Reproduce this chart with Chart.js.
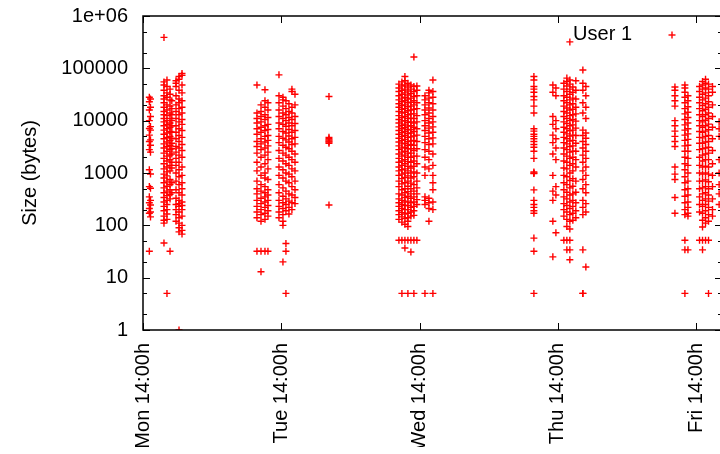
<!DOCTYPE html>
<html>
<head>
<meta charset="utf-8">
<script src="https://cdn.jsdelivr.net/npm/chart.js@4"></script>
<style>
  html, body { margin: 0; padding: 0; background: #fff; overflow: hidden; }
  #wrap { position: absolute; left: 0; top: 0; width: 760px; height: 447px; }
</style>
</head>
<body>
<div id="wrap"><canvas id="c" width="760" height="447"></canvas></div>
<script>
// Transfer sizes (bytes) logged per hour of the week; hour 0 = Monday 00:00.
// Each entry: [hour, [sizes logged around that hour]].
const mondayColumns = [
  [15.1, [28000, 23000, 16000, 10000, 7100, 5300, 4000, 2800, 1150, 550, 350, 270, 210, 170, 32]],
  [15.3, [26000, 18000, 12000, 7700, 6600, 4300, 3400, 2500, 960, 510, 300, 245, 180, 145]],
  [17.64, [390000, 55000, 48000, 38000, 30000, 26000, 22000, 18000, 15000, 13000, 11000, 9500, 8000, 6600, 5500, 4500, 3600, 3000, 2400, 1900, 1500, 1200, 950, 800, 650, 520, 420, 340, 280, 230, 190, 150, 125, 110, 46]],
  [18.16, [60000, 45000, 34000, 28000, 20000, 16000, 12500, 10000, 8500, 7000, 5800, 4800, 3900, 3200, 2600, 2100, 1700, 1300, 1050, 880, 700, 560, 450, 370, 300, 250, 200, 165, 130, 5]],
  [18.69, [40000, 32000, 25000, 19000, 14000, 11000, 9000, 7500, 6200, 5000, 4200, 3400, 2800, 2200, 1800, 1400, 1100, 750, 600, 480, 390, 320, 32]],
  [19.0, [24000, 17000, 13000, 10000, 8000, 6000, 4600, 3700, 2900, 2300, 1600, 1250, 650, 420]],
  [19.73, [58000, 52000, 45000, 30000, 20000, 15000, 11000, 8000, 6000, 4500, 3200, 2500, 1900, 1400, 1000, 700, 480, 330, 250, 200, 160, 120]],
  [20.25, [70000, 62000, 38000, 26000, 22000, 17000, 13000, 9500, 7000, 5200, 4000, 3000, 2200, 1600, 1150, 850, 600, 420, 300, 260, 230, 180, 140, 110, 90, 75, 1]],
  [20.77, [80000, 74000, 48000, 34000, 24000, 18000, 14000, 10500, 8500, 6500, 4800, 3500, 2700, 2000, 1300, 900, 650, 500, 380, 280, 240, 200, 150, 100, 80, 68]]
];

const tuesdayColumns = [
  [33.78, [48000, 14000, 11000, 9000, 7000, 5500, 4000, 3200, 2400, 1600, 1100, 700, 500, 400, 300, 230, 180, 140, 32]],
  [34.48, [20000, 15000, 12000, 9500, 7500, 6000, 4500, 3600, 2800, 2000, 1300, 900, 600, 450, 330, 260, 200, 160, 120, 32, 13]],
  [35.17, [39000, 24000, 18000, 13000, 10500, 8000, 6500, 5000, 3900, 3000, 2200, 1500, 1000, 800, 550, 420, 350, 280, 220, 170, 130, 32]],
  [35.69, [22000, 16000, 11500, 8500, 6800, 5200, 4200, 3300, 2500, 1800, 1200, 750, 480, 380, 300, 240, 190, 150, 32]],
  [37.6, [75000, 30000, 22000, 16000, 12000, 9000, 7000, 5000, 3800, 2700, 1900, 1300, 900, 600, 420, 300, 230, 180, 140]],
  [38.29, [28000, 25000, 19000, 14000, 11000, 8500, 6200, 4600, 3400, 2400, 1700, 1150, 800, 520, 360, 270, 210, 160, 120, 100, 20]],
  [38.81, [24000, 17000, 13000, 10000, 7800, 5800, 4300, 3100, 2200, 1500, 1000, 700, 450, 320, 250, 190, 45, 32, 5]],
  [39.33, [21000, 15000, 11500, 9000, 6800, 5100, 3900, 2900, 2000, 1400, 950, 650, 400, 290, 220, 165]],
  [39.85, [40000, 36000, 18000, 14000, 10500, 8000, 6000, 4500, 3500, 2600, 1800, 1200, 850, 550, 380, 270, 200]],
  [40.38, [32000, 20000, 12000, 8800, 6500, 4800, 3600, 2300, 1600, 1100, 700, 480, 340, 260]],
  [46.28, [29000, 4800, 4500, 4300, 4100, 3900, 3700, 245]]
];

const wednesdayColumns = [
  [58.42, [50000, 42000, 36000, 30000, 25000, 21000, 18000, 15000, 12500, 10500, 9000, 7600, 6500, 5500, 4600, 3900, 3300, 2800, 2300, 1900, 1600, 1300, 1100, 900, 700, 550, 400, 320, 270, 230, 190, 160, 130, 52]],
  [58.94, [55000, 46000, 38000, 32000, 27000, 23000, 19500, 16500, 14000, 11500, 9800, 8200, 7000, 5900, 5000, 4200, 3600, 3000, 2500, 2100, 1700, 1400, 1150, 950, 780, 620, 480, 380, 300, 250, 210, 175, 145, 115, 52, 5]],
  [59.46, [70000, 58000, 48000, 40000, 34000, 28000, 24000, 20000, 17000, 14500, 12000, 10000, 8600, 7300, 6200, 5200, 4400, 3700, 3100, 2600, 2200, 1800, 1500, 1200, 1000, 820, 650, 500, 420, 340, 280, 240, 200, 165, 135, 105, 52, 37]],
  [59.98, [52000, 44000, 37000, 31000, 26000, 22000, 18500, 15500, 13000, 11000, 9300, 7900, 6700, 5700, 4800, 4000, 3400, 2900, 2400, 2000, 1650, 1350, 1100, 880, 700, 560, 440, 360, 290, 240, 200, 170, 140, 120, 95, 52, 5]],
  [60.5, [48000, 40000, 33000, 27000, 22500, 19000, 16000, 13500, 11200, 9500, 8000, 6800, 5800, 4900, 4100, 3500, 2900, 2400, 2000, 1600, 1250, 1000, 800, 640, 500, 400, 330, 270, 220, 180, 150, 52, 31]],
  [61.02, [165000, 45000, 36000, 29000, 24000, 20000, 16500, 13500, 11000, 9000, 7500, 6200, 5100, 4200, 3400, 2700, 2100, 1700, 1350, 1050, 850, 600, 450, 350, 280, 230, 190, 155, 52, 5]],
  [61.54, [46000, 38000, 30000, 22000, 17000, 12500, 9500, 7000, 5300, 4000, 2900, 2100, 1500, 1000, 700, 520, 400, 310, 250, 52]],
  [62.94, [30000, 25000, 20000, 16000, 13000, 10000, 8000, 6500, 5000, 3800, 2800, 2000, 1300, 900, 350, 300, 250, 5]],
  [63.63, [38000, 34000, 27000, 22000, 17500, 14000, 11000, 9000, 7200, 5800, 4500, 3500, 2600, 1800, 1200, 330, 270, 210, 120]],
  [64.32, [60000, 36000, 28000, 21000, 16000, 12000, 9500, 7600, 6000, 4700, 3600, 2300, 1400, 900, 650, 480, 280, 200, 5]]
];

const thursdayColumns = [
  [81.85, [70000, 60000, 45000, 40000, 35000, 29000, 25000, 19000, 14000, 7000, 6300, 5500, 5000, 4500, 4000, 3500, 3100, 2600, 1900, 1050, 1000, 980, 475, 300, 250, 220, 190, 170, 57, 32, 5]],
  [85.14, [48000, 35000, 12000, 8500, 5300, 3800, 2300, 900, 450, 300, 120, 25]],
  [85.67, [42000, 30000, 10000, 7000, 4500, 3000, 1800, 550, 380, 72]],
  [87.05, [52000, 40000, 30000, 24000, 19000, 15000, 12000, 9500, 7500, 6000, 4800, 3800, 3000, 2300, 1700, 1250, 900, 650, 480, 350, 260, 200, 150, 52]],
  [87.57, [65000, 56000, 46000, 36000, 28000, 22000, 17500, 14000, 11000, 8800, 7000, 5600, 4500, 3600, 2800, 2100, 1600, 1200, 850, 600, 430, 320, 240, 180, 130, 95, 52, 34]],
  [88.09, [320000, 60000, 50000, 40000, 32000, 25000, 20000, 16000, 12500, 10000, 8000, 6400, 5100, 4100, 3200, 2500, 1900, 1400, 1000, 720, 520, 380, 280, 210, 160, 120, 85, 52, 34, 22]],
  [88.61, [44000, 35000, 27000, 21000, 16500, 13000, 10500, 8300, 6600, 5300, 4200, 3300, 2600, 2000, 1500, 1100, 780, 560, 400, 300, 230, 170, 125]],
  [89.13, [58000, 38000, 26000, 18000, 13500, 9800, 7200, 5200, 3700, 2600, 1800, 1300, 700, 430, 270, 190, 140]],
  [90.35, [93000, 52000, 38000, 22000, 14000, 6600, 5200, 4000, 3000, 2200, 1600, 1100, 750, 500, 300, 220, 160, 34, 5, 5]],
  [90.87, [45000, 30000, 18000, 11000, 5800, 4600, 3500, 2600, 1900, 1300, 900, 600, 420, 260, 180, 16]]
];

const fridayColumns = [
  [106.33, [44000, 38000, 30000, 24000, 19000, 10000, 8000, 6300, 5000, 4000, 3200, 1300, 950, 750, 340, 170]],
  [108.06, [48000, 42000, 35000, 28000, 22000, 17000, 13500, 10500, 8300, 6600, 5300, 4200, 3300, 2600, 2000, 1500, 1150, 850, 650, 480, 360, 270, 200, 160, 52, 34, 5]],
  [108.59, [30000, 24000, 18500, 14500, 11500, 9000, 7000, 5600, 4400, 3400, 2600, 1900, 1400, 1000, 700, 500, 380, 280, 220, 170, 150, 34]],
  [110.6, [45000, 36000, 28000, 22000, 17000, 13000, 10000, 8000, 6200, 4800, 3700, 2800, 2000, 1400, 1000, 700, 500, 350, 250, 180, 52]],
  [111.12, [56000, 48000, 40000, 32000, 25000, 19500, 15500, 12000, 9500, 7500, 6000, 4700, 3700, 2900, 2200, 1700, 1300, 950, 700, 520, 400, 300, 230, 170, 125, 93, 52, 34]],
  [111.64, [62000, 52000, 42000, 34000, 27000, 21000, 16500, 13000, 10200, 8000, 6300, 5000, 3900, 3000, 2300, 1800, 1350, 1000, 740, 550, 420, 320, 250, 190, 140, 110, 52]],
  [112.16, [50000, 40000, 30000, 23000, 18000, 14000, 11000, 8600, 6700, 5200, 4000, 3100, 2400, 1800, 1300, 950, 680, 500, 380, 290, 220, 160, 120, 52, 5]],
  [112.85, [45000, 35000, 20000, 12000, 7500, 4500, 2700, 1500, 900, 550, 320, 200, 150]],
  [114.0, [9500, 7000, 5000, 1800, 1000, 600, 400, 250]]
];

// Axis ticks
const xTickHours = [14, 38, 62, 86, 110];
const xTickLabels = ['Mon 14:00h', 'Tue 14:00h', 'Wed 14:00h', 'Thu 14:00h', 'Fri 14:00h'];
const yTickValues = [1, 10, 100, 1000, 10000, 100000, 1000000];
const yTickLabels = ['1', '10', '100', '1000', '10000', '100000', '1e+06'];
const yMinorTicks = [2, 5, 20, 50, 200, 500, 2000, 5000, 20000, 50000, 200000, 500000];

const seriesName = 'User 1';
const FONT = "'Liberation Sans', Arial, sans-serif";

const points = [];
[mondayColumns, tuesdayColumns, wednesdayColumns, thursdayColumns, fridayColumns].forEach(day => {
  day.forEach(([hour, sizes]) => sizes.forEach(s => points.push({ x: hour, y: s })));
});

// Closed frame with inward ticks on all four sides, plus the key.
const frameAndKey = {
  id: 'frameAndKey',
  afterDatasetsDraw(chart) {
    const { ctx, chartArea: a, scales: { x, y } } = chart;
    const seg = (x1, y1, x2, y2) => { ctx.beginPath(); ctx.moveTo(x1, y1); ctx.lineTo(x2, y2); ctx.stroke(); };
    ctx.save();
    ctx.strokeStyle = '#000';
    ctx.lineWidth = 1;
    yTickValues.forEach(v => {
      const py = Math.round(y.getPixelForValue(v)) + 0.5;
      seg(a.left, py, a.left + 7, py);
      seg(a.right, py, a.right - 7, py);
    });
    yMinorTicks.forEach(v => {
      const py = Math.round(y.getPixelForValue(v)) + 0.5;
      seg(a.left, py, a.left + 4, py);
      seg(a.right, py, a.right - 4, py);
    });
    xTickHours.forEach(h => {
      const px = Math.round(x.getPixelForValue(h)) + 0.5;
      seg(px, a.bottom, px, a.bottom - 7);
      seg(px, a.top, px, a.top + 7);
    });
    ctx.lineWidth = 1.5;
    ctx.strokeRect(a.left, a.top, a.right - a.left, a.bottom - a.top);

    // key: label right-aligned, sample marker to its right
    const ds = chart.data.datasets[0];
    ctx.fillStyle = '#000';
    ctx.font = '20px ' + FONT;
    ctx.textAlign = 'right';
    ctx.textBaseline = 'middle';
    ctx.fillText(ds.label, 632, 34);
    ctx.strokeStyle = ds.borderColor;
    ctx.lineWidth = ds.borderWidth;
    const kx = 672, ky = 35, r = ds.pointRadius;
    seg(kx - r, ky, kx + r, ky);
    seg(kx, ky - r, kx, ky + r);
    ctx.restore();
  }
};

Chart.defaults.color = '#000';
Chart.defaults.font.family = FONT;

new Chart(document.getElementById('c'), {
  type: 'scatter',
  data: {
    datasets: [{
      label: seriesName,
      data: points,
      pointStyle: 'cross',
      pointRadius: 3.5,
      borderWidth: 1.4,
      borderColor: '#ff0000',
      backgroundColor: '#ff0000'
    }]
  },
  options: {
    responsive: false,
    devicePixelRatio: 1,
    animation: false,
    events: [],
    layout: { padding: { top: 16, right: 38, left: 0, bottom: 0 } },
    plugins: { legend: { display: false }, tooltip: { enabled: false } },
    scales: {
      x: {
        type: 'linear',
        min: 14,
        max: 114.5,
        afterBuildTicks: s => { s.ticks = xTickHours.map(v => ({ value: v })); },
        afterFit: s => { s.height = 117; s.paddingLeft = 0; s.paddingRight = 0; },
        grid: { display: false, drawTicks: false },
        border: { display: false },
        ticks: {
          autoSkip: false,
          minRotation: 90,
          maxRotation: 90,
          padding: 13,
          font: { size: 20 },
          callback: (v, i) => xTickLabels[i]
        }
      },
      y: {
        type: 'logarithmic',
        min: 1,
        max: 1000000,
        afterBuildTicks: s => { s.ticks = yTickValues.map(v => ({ value: v })); },
        afterFit: s => { s.width = 143; s.paddingTop = 0; s.paddingBottom = 0; },
        grid: { display: false, drawTicks: false },
        border: { display: false },
        title: { display: true, text: 'Size (bytes)', font: { size: 20 }, padding: { top: 18, bottom: 0 } },
        ticks: {
          padding: 15,
          font: { size: 20 },
          callback: (v, i) => yTickLabels[i]
        }
      }
    }
  },
  plugins: [frameAndKey]
});
</script>
</body>
</html>
